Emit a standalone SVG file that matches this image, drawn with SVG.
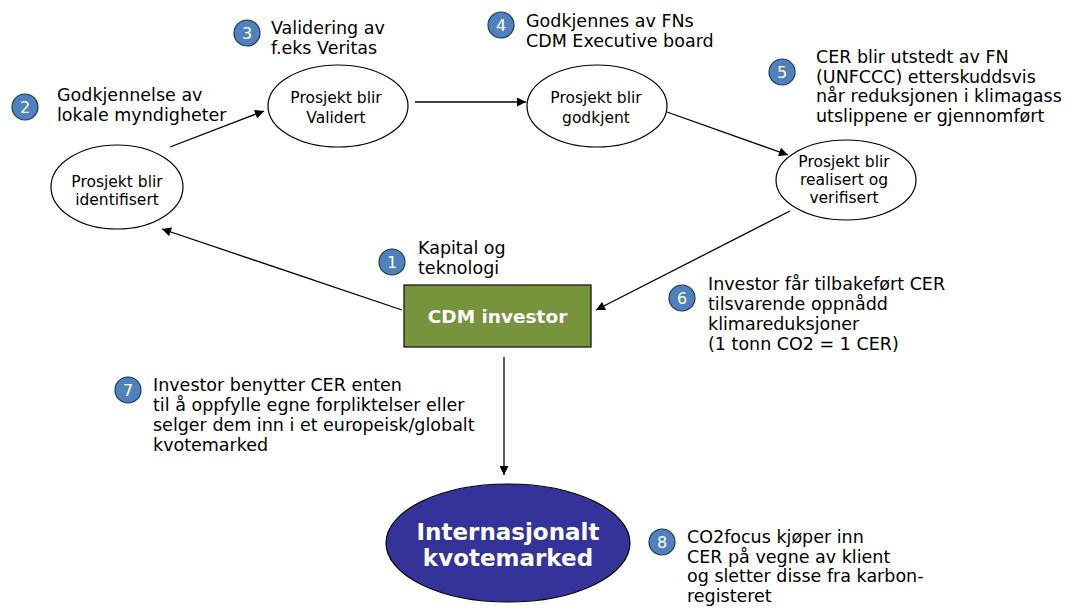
<svg xmlns="http://www.w3.org/2000/svg" width="1072" height="610" viewBox="0 0 1072 610">
<defs>
<marker id="ah" viewBox="0 0 10 10" refX="10" refY="5" markerWidth="10" markerHeight="9" markerUnits="userSpaceOnUse" orient="auto">
<path d="M0,0 L10,5 L0,10 z" fill="#000"/>
</marker>
<style>
.node{fill:#fff;stroke:#000;stroke-width:1.2}
.nt{font-family:"DejaVu Sans",Verdana,sans-serif;font-size:15.5px;fill:#000;text-anchor:middle}
.ann{font-family:"DejaVu Sans",Verdana,sans-serif;font-size:17.5px;fill:#000}
.num{fill:#4F81BD;stroke:#1F3A60;stroke-width:1.2}
.numt{font-family:"DejaVu Sans",Verdana,sans-serif;font-size:16px;fill:#fff;text-anchor:middle}
.con{stroke:#000;stroke-width:1.3;fill:none;marker-end:url(#ah)}
</style>
</defs>
<rect width="1072" height="610" fill="#fff"/>

<g id="connectors">
<line class="con" x1="170" y1="147" x2="264" y2="111"/>
<line class="con" x1="415" y1="102" x2="526" y2="102"/>
<line class="con" x1="667" y1="112" x2="788" y2="155"/>
<line class="con" x1="790" y1="211" x2="596" y2="310"/>
<line class="con" x1="402" y1="310" x2="162" y2="229"/>
<line class="con" x1="504" y1="357" x2="504" y2="475"/>
</g>

<g id="node-identifisert">
<ellipse class="node" cx="117" cy="187" rx="66" ry="42"/>
<text class="nt" x="117" y="187">Prosjekt blir</text>
<text class="nt" x="117" y="205">identifisert</text>
</g>

<g id="node-validert">
<ellipse class="node" cx="338" cy="106" rx="70" ry="41"/>
<text class="nt" x="336" y="103">Prosjekt blir</text>
<text class="nt" x="336" y="123">Validert</text>
</g>

<g id="node-godkjent">
<ellipse class="node" cx="597" cy="106" rx="70" ry="41"/>
<text class="nt" x="596" y="103">Prosjekt blir</text>
<text class="nt" x="596" y="123">godkjent</text>
</g>

<g id="node-realisert">
<ellipse class="node" cx="846" cy="180" rx="70" ry="40"/>
<text class="nt" x="844" y="167">Prosjekt blir</text>
<text class="nt" x="844" y="185">realisert og</text>
<text class="nt" x="844" y="203">verifisert</text>
</g>

<g id="node-cdm-investor">
<rect x="404" y="285" width="187" height="62" fill="#77933C" stroke="#1a1a1a" stroke-width="1.3"/>
<text x="497.5" y="323" font-family="'DejaVu Sans',Verdana,sans-serif" font-size="18.5px" font-weight="bold" fill="#fff" text-anchor="middle">CDM investor</text>
</g>

<g id="node-kvotemarked">
<ellipse cx="508" cy="543" rx="122" ry="59" fill="#333399" stroke="#000" stroke-width="1.2"/>
<text x="508" y="540" font-family="'DejaVu Sans',Verdana,sans-serif" font-size="23px" font-weight="bold" fill="#fff" text-anchor="middle">Internasjonalt</text>
<text x="508" y="566" font-family="'DejaVu Sans',Verdana,sans-serif" font-size="23px" font-weight="bold" fill="#fff" text-anchor="middle">kvotemarked</text>
</g>

<g id="label-1">
<circle class="num" cx="392" cy="262" r="13"/>
<text class="numt" x="392" y="268">1</text>
<text class="ann" x="418" y="254">Kapital og</text>
<text class="ann" x="418" y="274">teknologi</text>
</g>

<g id="label-2">
<circle class="num" cx="25" cy="107" r="13"/>
<text class="numt" x="25" y="113">2</text>
<text class="ann" x="57" y="101">Godkjennelse av</text>
<text class="ann" x="57" y="121">lokale myndigheter</text>
</g>

<g id="label-3">
<circle class="num" cx="247" cy="33" r="13"/>
<text class="numt" x="247" y="39">3</text>
<text class="ann" x="271" y="34">Validering av</text>
<text class="ann" x="271" y="54">f.eks Veritas</text>
</g>

<g id="label-4">
<circle class="num" cx="501" cy="25" r="13"/>
<text class="numt" x="501" y="31">4</text>
<text class="ann" x="526" y="27">Godkjennes av FNs</text>
<text class="ann" x="526" y="47">CDM Executive board</text>
</g>

<g id="label-5">
<circle class="num" cx="782" cy="72" r="13"/>
<text class="numt" x="782" y="78">5</text>
<text class="ann" x="816" y="63">CER blir utstedt av FN</text>
<text class="ann" x="816" y="82.5">(UNFCCC) etterskuddsvis</text>
<text class="ann" x="816" y="102">når reduksjonen i klimagass</text>
<text class="ann" x="816" y="121.5">utslippene er gjennomført</text>
</g>

<g id="label-6">
<circle class="num" cx="682" cy="298" r="13"/>
<text class="numt" x="682" y="304">6</text>
<text class="ann" x="708" y="290">Investor får tilbakeført CER</text>
<text class="ann" x="708" y="310">tilsvarende oppnådd</text>
<text class="ann" x="708" y="330">klimareduksjoner</text>
<text class="ann" x="708" y="350">(1 tonn CO2 = 1 CER)</text>
</g>

<g id="label-7">
<circle class="num" cx="128" cy="390" r="13"/>
<text class="numt" x="128" y="396">7</text>
<text class="ann" x="153" y="391">Investor benytter CER enten</text>
<text class="ann" x="153" y="411">til å oppfylle egne forpliktelser eller</text>
<text class="ann" x="153" y="431">selger dem inn i et europeisk/globalt</text>
<text class="ann" x="153" y="451">kvotemarked</text>
</g>

<g id="label-8">
<circle class="num" cx="662" cy="542" r="13"/>
<text class="numt" x="662" y="548">8</text>
<text class="ann" x="687" y="543">CO2focus kjøper inn</text>
<text class="ann" x="687" y="562.5">CER på vegne av klient</text>
<text class="ann" x="687" y="582">og sletter disse fra karbon-</text>
<text class="ann" x="687" y="601.5">registeret</text>
</g>
</svg>
